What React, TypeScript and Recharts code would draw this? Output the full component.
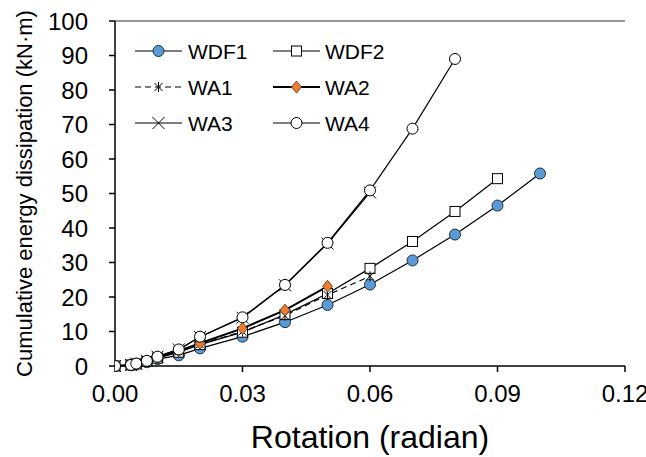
import { LineChart, Line, XAxis, YAxis, ReferenceLine } from "recharts";

// drift levels (radian) shared by all specimens
const rotation = [0, 0.00375, 0.005, 0.0075, 0.01, 0.015, 0.02, 0.03, 0.04, 0.05, 0.06, 0.07, 0.08, 0.09, 0.1];

// cumulative energy dissipation (kN·m)
const wdf1 = [0, 0.2, 0.5, 1.1, 2.0, 3.1, 5.1, 8.5, 12.7, 17.7, 23.6, 30.6, 38.1, 46.5, 55.8];
const wdf2 = [0, 0.3, 0.6, 1.3, 2.3, 4.0, 6.2, 9.8, 14.9, 21.0, 28.3, 36.1, 44.8, 54.3];
const wa1 = [0, 0.3, 0.6, 1.3, 2.4, 4.2, 6.3, 10.0, 14.6, 20.6, 26.0];
const wa2 = [0, 0.3, 0.7, 1.4, 2.6, 4.4, 6.6, 10.9, 16.2, 23.1];
const wa3 = [0, 0.3, 0.7, 1.5, 2.7, 4.8, 8.4, 14.0, 23.4, 35.5, 50.3];
const wa4 = [0, 0.3, 0.7, 1.5, 2.7, 4.8, 8.5, 14.1, 23.5, 35.7, 50.9, 68.8, 89.0];

const xTicks = [0, 0.03, 0.06, 0.09, 0.12];
const yTicks = [0, 10, 20, 30, 40, 50, 60, 70, 80, 90, 100];

const FONT = '"Liberation Sans", Arial, sans-serif';

type Kind = "circleBlue" | "square" | "star" | "diamond" | "cross" | "circleWhite";

const series: { name: string; values: number[]; kind: Kind; width: number; dash?: string }[] = [
	{ name: "WDF1", values: wdf1, kind: "circleBlue", width: 1.2 },
	{ name: "WDF2", values: wdf2, kind: "square", width: 1.2 },
	{ name: "WA1", values: wa1, kind: "star", width: 1.2, dash: "6 4" },
	{ name: "WA2", values: wa2, kind: "diamond", width: 2 },
	{ name: "WA3", values: wa3, kind: "cross", width: 1.2 },
	{ name: "WA4", values: wa4, kind: "circleWhite", width: 1.2 },
];

const toPoints = (ys: number[]) => ys.map((y, i) => ({ x: rotation[i], y }));

const Marker = ({ kind, cx, cy }: { kind: Kind; cx: number; cy: number }) => {
	if (cx == null || cy == null) return null;
	switch (kind) {
		case "circleBlue":
			return <circle cx={cx} cy={cy} r={5.5} fill="#5B9BD5" stroke="#1f2f3f" strokeWidth={1} />;
		case "circleWhite":
			return <circle cx={cx} cy={cy} r={5.5} fill="#fff" stroke="#000" strokeWidth={1} />;
		case "square":
			return <rect x={cx - 5} y={cy - 5} width={10} height={10} fill="#fff" stroke="#000" strokeWidth={1} />;
		case "diamond":
			return (
				<polygon
					points={`${cx},${cy - 6} ${cx + 5},${cy} ${cx},${cy + 6} ${cx - 5},${cy}`}
					fill="#ED7D31"
					stroke="#5a3010"
					strokeWidth={0.8}
				/>
			);
		case "cross":
			return (
				<g stroke="#000" strokeWidth={1}>
					<line x1={cx - 6} y1={cy - 6} x2={cx + 6} y2={cy + 6} />
					<line x1={cx - 6} y1={cy + 6} x2={cx + 6} y2={cy - 6} />
				</g>
			);
		case "star":
			return (
				<g stroke="#000" strokeWidth={1}>
					<line x1={cx} y1={cy - 5} x2={cx} y2={cy + 5} />
					<line x1={cx - 4} y1={cy - 4} x2={cx + 4} y2={cy + 4} />
					<line x1={cx - 4} y1={cy + 4} x2={cx + 4} y2={cy - 4} />
				</g>
			);
	}
	return null;
};

const LegendBox = () => {
	const rows = [51, 87, 123];
	const cols = [
		{ x1: 135, x2: 182, text: 188 },
		{ x1: 273, x2: 320, text: 325 },
	];
	return (
		<svg width={420} height={150} style={{ position: "absolute", left: 0, top: 0 }}>
			{series.map((s, i) => {
				const c = cols[i % 2];
				const y = rows[Math.floor(i / 2)];
				const mid = (c.x1 + c.x2) / 2;
				return (
					<g key={s.name}>
						<line x1={c.x1} y1={y} x2={c.x2} y2={y} stroke="#000" strokeWidth={s.width} strokeDasharray={s.dash} />
						<Marker kind={s.kind} cx={mid} cy={y} />
						<text x={c.text} y={y + 7.5} fontSize={21} fontFamily={FONT} fill="#000">
							{s.name}
						</text>
					</g>
				);
			})}
		</svg>
	);
};

export default function App() {
	return (
		<div style={{ position: "absolute", left: 0, top: 0, width: 646, height: 457, background: "#fff" }}>
			<LineChart width={646} height={457} margin={{ top: 21, right: 21, bottom: 31, left: 0 }}>
				<XAxis
					type="number"
					dataKey="x"
					domain={[0, 0.12]}
					ticks={xTicks}
					tickFormatter={(v: number) => v.toFixed(2)}
					tick={{ fill: "#000", fontSize: 24, fontFamily: FONT }}
					tickSize={6}
					tickMargin={13}
					height={60}
					axisLine={{ stroke: "#000", strokeWidth: 1.5 }}
					tickLine={{ stroke: "#000", strokeWidth: 1.5 }}
					allowDataOverflow
					label={{
						content: (props: any) => {
							const vb = props.viewBox;
							return (
								<text
									x={vb.x + vb.width / 2}
									y={vb.y + 82}
									textAnchor="middle"
									fontSize={32}
									fontFamily={FONT}
									fill="#000"
								>
									Rotation (radian)
								</text>
							);
						},
					}}
				/>
				<YAxis
					type="number"
					dataKey="y"
					domain={[0, 100]}
					ticks={yTicks}
					tick={{ fill: "#000", fontSize: 24, fontFamily: FONT }}
					tickSize={6}
					tickMargin={21}
					width={115}
					axisLine={{ stroke: "#000", strokeWidth: 1.5 }}
					tickLine={{ stroke: "#000", strokeWidth: 1.5 }}
					label={{
						content: (props: any) => {
							const vb = props.viewBox;
							const cx = vb.x + 24;
							const cy = vb.y + vb.height / 2;
							return (
								<text
									x={cx}
									y={cy}
									transform={`rotate(-90 ${cx} ${cy})`}
									textAnchor="middle"
									dominantBaseline="central"
									fontSize={22}
									fontFamily={FONT}
									fill="#000"
								>
									Cumulative energy dissipation (kN·m)
								</text>
							);
						},
					}}
				/>
				<ReferenceLine y={100} stroke="#333" strokeWidth={1.2} />
				{series.map((s) => (
					<Line
						key={s.name}
						name={s.name}
						data={toPoints(s.values)}
						dataKey="y"
						type="linear"
						stroke="#000"
						strokeWidth={s.width}
						strokeDasharray={s.dash}
						isAnimationActive={false}
						activeDot={false}
						dot={(p: any) => <Marker key={`${s.name}-${p.index}`} kind={s.kind} cx={p.cx} cy={p.cy} />}
					/>
				))}
			</LineChart>
			<LegendBox />
		</div>
	);
}
